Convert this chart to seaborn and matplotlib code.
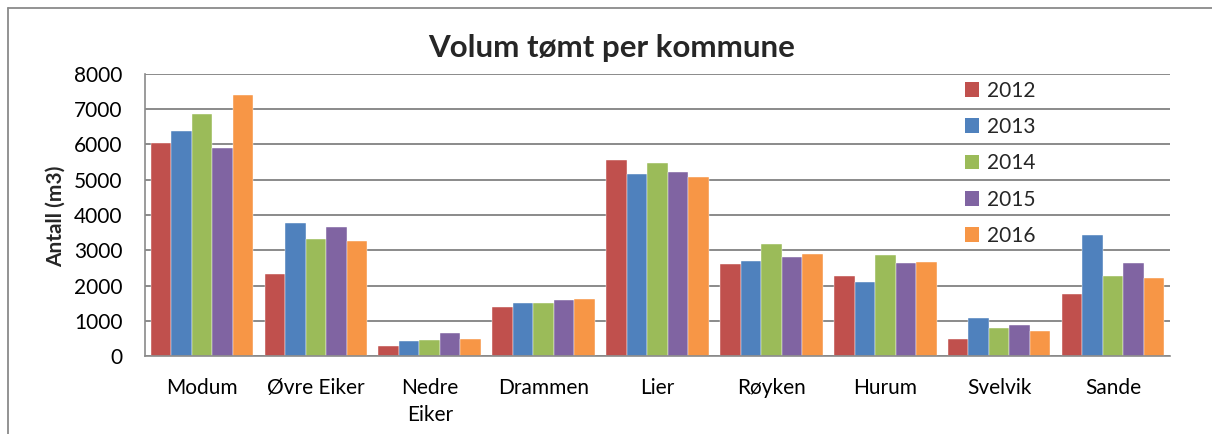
import matplotlib
matplotlib.use("Agg")
import matplotlib.pyplot as plt
import seaborn as sns
import pandas as pd
from matplotlib.patches import Rectangle
from matplotlib.lines import Line2D

categories = ["Modum", "Øvre Eiker", "Nedre\nEiker", "Drammen", "Lier",
              "Røyken", "Hurum", "Svelvik", "Sande"]
years = ["2012", "2013", "2014", "2015", "2016"]
v2012 = [6030, 2320, 295, 1380, 5570, 2615, 2265, 490, 1770]
v2013 = [6370, 3780, 415, 1490, 5160, 2690, 2110, 1080, 3440]
v2014 = [6870, 3315, 455, 1490, 5475, 3180, 2870, 795, 2280]
v2015 = [5890, 3655, 665, 1580, 5220, 2800, 2640, 870, 2640]
v2016 = [7415, 3275, 485, 1610, 5075, 2905, 2660, 700, 2205]
series = [v2012, v2013, v2014, v2015, v2016]
colors = ["#C0504D", "#4F81BD", "#9BBB59", "#8064A2", "#F79646"]

rows = []
for y, vals in zip(years, series):
    for c, v in zip(categories, vals):
        rows.append({"Kommune": c, "År": y, "Antall": v})
df = pd.DataFrame(rows)

sns.set_theme(style="white")
plt.rcParams["font.family"] = ["Lato", "DejaVu Sans"]

fig = plt.figure(figsize=(12.12, 4.34), dpi=100)
ax = fig.add_axes([145/1212, 1-356/434, (1170-145)/1212, (356-74)/434])

sns.barplot(data=df, x="Kommune", y="Antall", hue="År", order=categories,
            hue_order=years, palette=colors, width=0.9, saturation=1,
            edgecolor="white", linewidth=0.3, ax=ax, legend=False, errorbar=None)

ax.set_ylim(0, 8000)
ax.set_yticks(range(0, 8001, 1000))
ax.set_xlim(-0.5, len(categories) - 0.5)
ax.yaxis.grid(True, color="#8a8a8a", linewidth=1.4)
ax.set_axisbelow(True)
for s in ["top", "right"]:
    ax.spines[s].set_visible(False)
for s in ["left", "bottom"]:
    ax.spines[s].set_color("#8a8a8a")
    ax.spines[s].set_linewidth(1.2)
ax.tick_params(axis="both", length=0, labelsize=15, colors="black")
ax.tick_params(axis="y", pad=16)
ax.tick_params(axis="x", pad=16)
for lab in ax.get_xticklabels():
    lab.set_linespacing(1.45)
ax.set_xlabel("")
ax.set_ylabel("")
fig.text(56/1212, 1-216/434, "Antall (m3)", rotation=90, ha="center", va="center",
         fontsize=15, fontweight="bold")

fig.text(612/1212, 1-48/434, "Volum tømt per kommune", ha="center", va="center",
         fontsize=22.5, fontweight="bold")

handles = [Rectangle((0, 0), 1, 1, facecolor=c, edgecolor="none") for c in colors]
fig.legend(handles, years, loc="upper left", bbox_to_anchor=(946/1212, 1-62/434),
           frameon=False, fontsize=15, handlelength=0.7, handleheight=0.7,
           handletextpad=0.35, labelspacing=0.78)

# outer chart border (left and top)
fig.add_artist(Line2D([8/1212, 8/1212], [0, 1-8/434], transform=fig.transFigure,
                      color="#8a8a8a", linewidth=1.3))
fig.add_artist(Line2D([8/1212, 1], [1-8/434, 1-8/434], transform=fig.transFigure,
                      color="#8a8a8a", linewidth=1.3))

fig.savefig("out.png", dpi=100)
